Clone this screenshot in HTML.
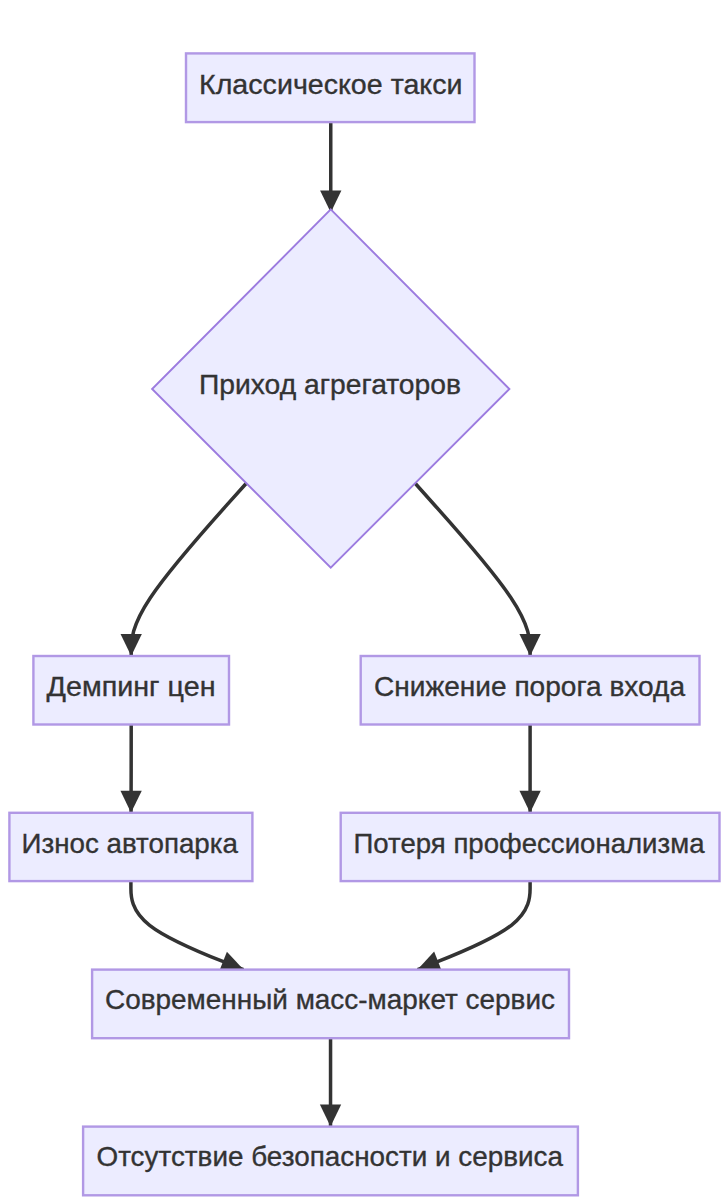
<!DOCTYPE html>
<html><head><meta charset="utf-8"><style>
html,body{margin:0;padding:0;background:#ffffff;}
body{width:725px;height:1200px;overflow:hidden;}
svg{display:block;}
</style></head><body>
<svg width="725" height="1200" viewBox="0 0 725 1200"><g transform="translate(0,0.4)">
<g fill="none" stroke="#333333" stroke-width="3.5">
<path d="M330.75,121.70 L330.75,129.06 C330.75,136.42 330.75,151.13 330.75,166.19 C330.75,181.25 330.75,196.65 330.75,204.35 L330.75,212.05"/>
<path d="M246.34,482.84 L227.15,504.27 C207.96,525.69 169.58,568.55 150.39,597.34 C131.20,626.13 131.20,640.87 131.20,648.23 L131.20,655.60"/>
<path d="M415.11,482.89 L434.28,504.31 C453.44,525.72 491.77,568.56 510.94,597.35 C530.10,626.13 530.10,640.87 530.10,648.23 L530.10,655.60"/>
<path d="M131.20,724.10 L131.20,731.46 C131.20,738.82 131.20,753.53 131.17,768.25 C131.14,782.97 131.09,797.68 131.06,805.04 L131.03,812.40"/>
<path d="M530.10,724.10 L530.10,731.46 C530.10,738.82 530.10,753.53 530.10,768.25 C530.10,782.97 530.10,797.68 530.10,805.04 L530.10,812.40"/>
<path d="M130.90,880.70 L130.90,888.06 C130.90,895.42 130.90,910.13 149.66,924.88 C168.43,939.63 205.95,954.42 224.72,961.81 L243.48,969.20"/>
<path d="M530.10,880.70 L530.10,888.06 C530.10,895.42 530.10,910.13 511.35,924.88 C492.59,939.63 455.08,954.42 436.33,961.81 L417.58,969.20"/>
<path d="M330.55,1037.80 L330.55,1045.16 C330.55,1052.52 330.55,1067.23 330.55,1081.97 C330.54,1096.70 330.53,1111.45 330.53,1118.83 L330.52,1126.20"/>
</g>
<g fill="#333333" stroke="none">
<path d="M330.75,212.05 L320.10,190.05 L341.40,190.05 Z"/>
<path d="M131.20,655.60 L120.55,633.60 L141.85,633.60 Z"/>
<path d="M530.10,655.60 L519.45,633.60 L540.75,633.60 Z"/>
<path d="M131.03,812.40 L120.47,790.36 L141.77,790.44 Z"/>
<path d="M530.10,812.40 L519.45,790.40 L540.75,790.40 Z"/>
<path d="M243.48,969.20 L219.11,971.05 L226.92,951.23 Z"/>
<path d="M417.58,969.20 L434.14,951.22 L441.95,971.04 Z"/>
<path d="M330.52,1126.20 L319.89,1104.19 L341.19,1104.21 Z"/>
</g>
<g fill="#ECECFF" stroke="#B198E5" stroke-width="2.4">
<rect x="186.00" y="53.00" width="288.50" height="68.70"/>
<rect x="33.40" y="655.60" width="195.60" height="68.50"/>
<rect x="360.70" y="655.60" width="338.80" height="68.50"/>
<rect x="9.40" y="812.40" width="243.00" height="68.30"/>
<rect x="340.70" y="812.40" width="378.80" height="68.30"/>
<rect x="92.10" y="969.20" width="476.90" height="68.60"/>
<rect x="83.10" y="1126.20" width="494.80" height="68.70"/>
<path stroke="#9C7BDF" stroke-width="1.9" d="M330.75,209.05 L509.40,388.60 L330.75,567.25 L152.10,388.60 Z"/>
</g>
<g fill="#333333" stroke="#333333" stroke-width="0.35" font-family="Liberation Sans, sans-serif" font-size="28.5">
<text x="199.00" y="94.00" textLength="263.50" lengthAdjust="spacingAndGlyphs">Классическое такси</text>
<text x="46.50" y="695.90" textLength="169.00" lengthAdjust="spacingAndGlyphs">Демпинг цен</text>
<text x="374.00" y="695.90" textLength="311.00" lengthAdjust="spacingAndGlyphs">Снижение порога входа</text>
<text x="21.50" y="852.40" textLength="216.50" lengthAdjust="spacingAndGlyphs">Износ автопарка</text>
<text x="353.50" y="852.40" textLength="351.00" lengthAdjust="spacingAndGlyphs">Потеря профессионализма</text>
<text x="105.00" y="1008.80" textLength="450.00" lengthAdjust="spacingAndGlyphs">Современный масс-маркет сервис</text>
<text x="96.50" y="1165.90" textLength="466.50" lengthAdjust="spacingAndGlyphs">Отсутствие безопасности и сервиса</text>
<text x="199.00" y="394.10" textLength="262.00" lengthAdjust="spacingAndGlyphs">Приход агрегаторов</text>
</g>
</g></svg>
</body></html>
